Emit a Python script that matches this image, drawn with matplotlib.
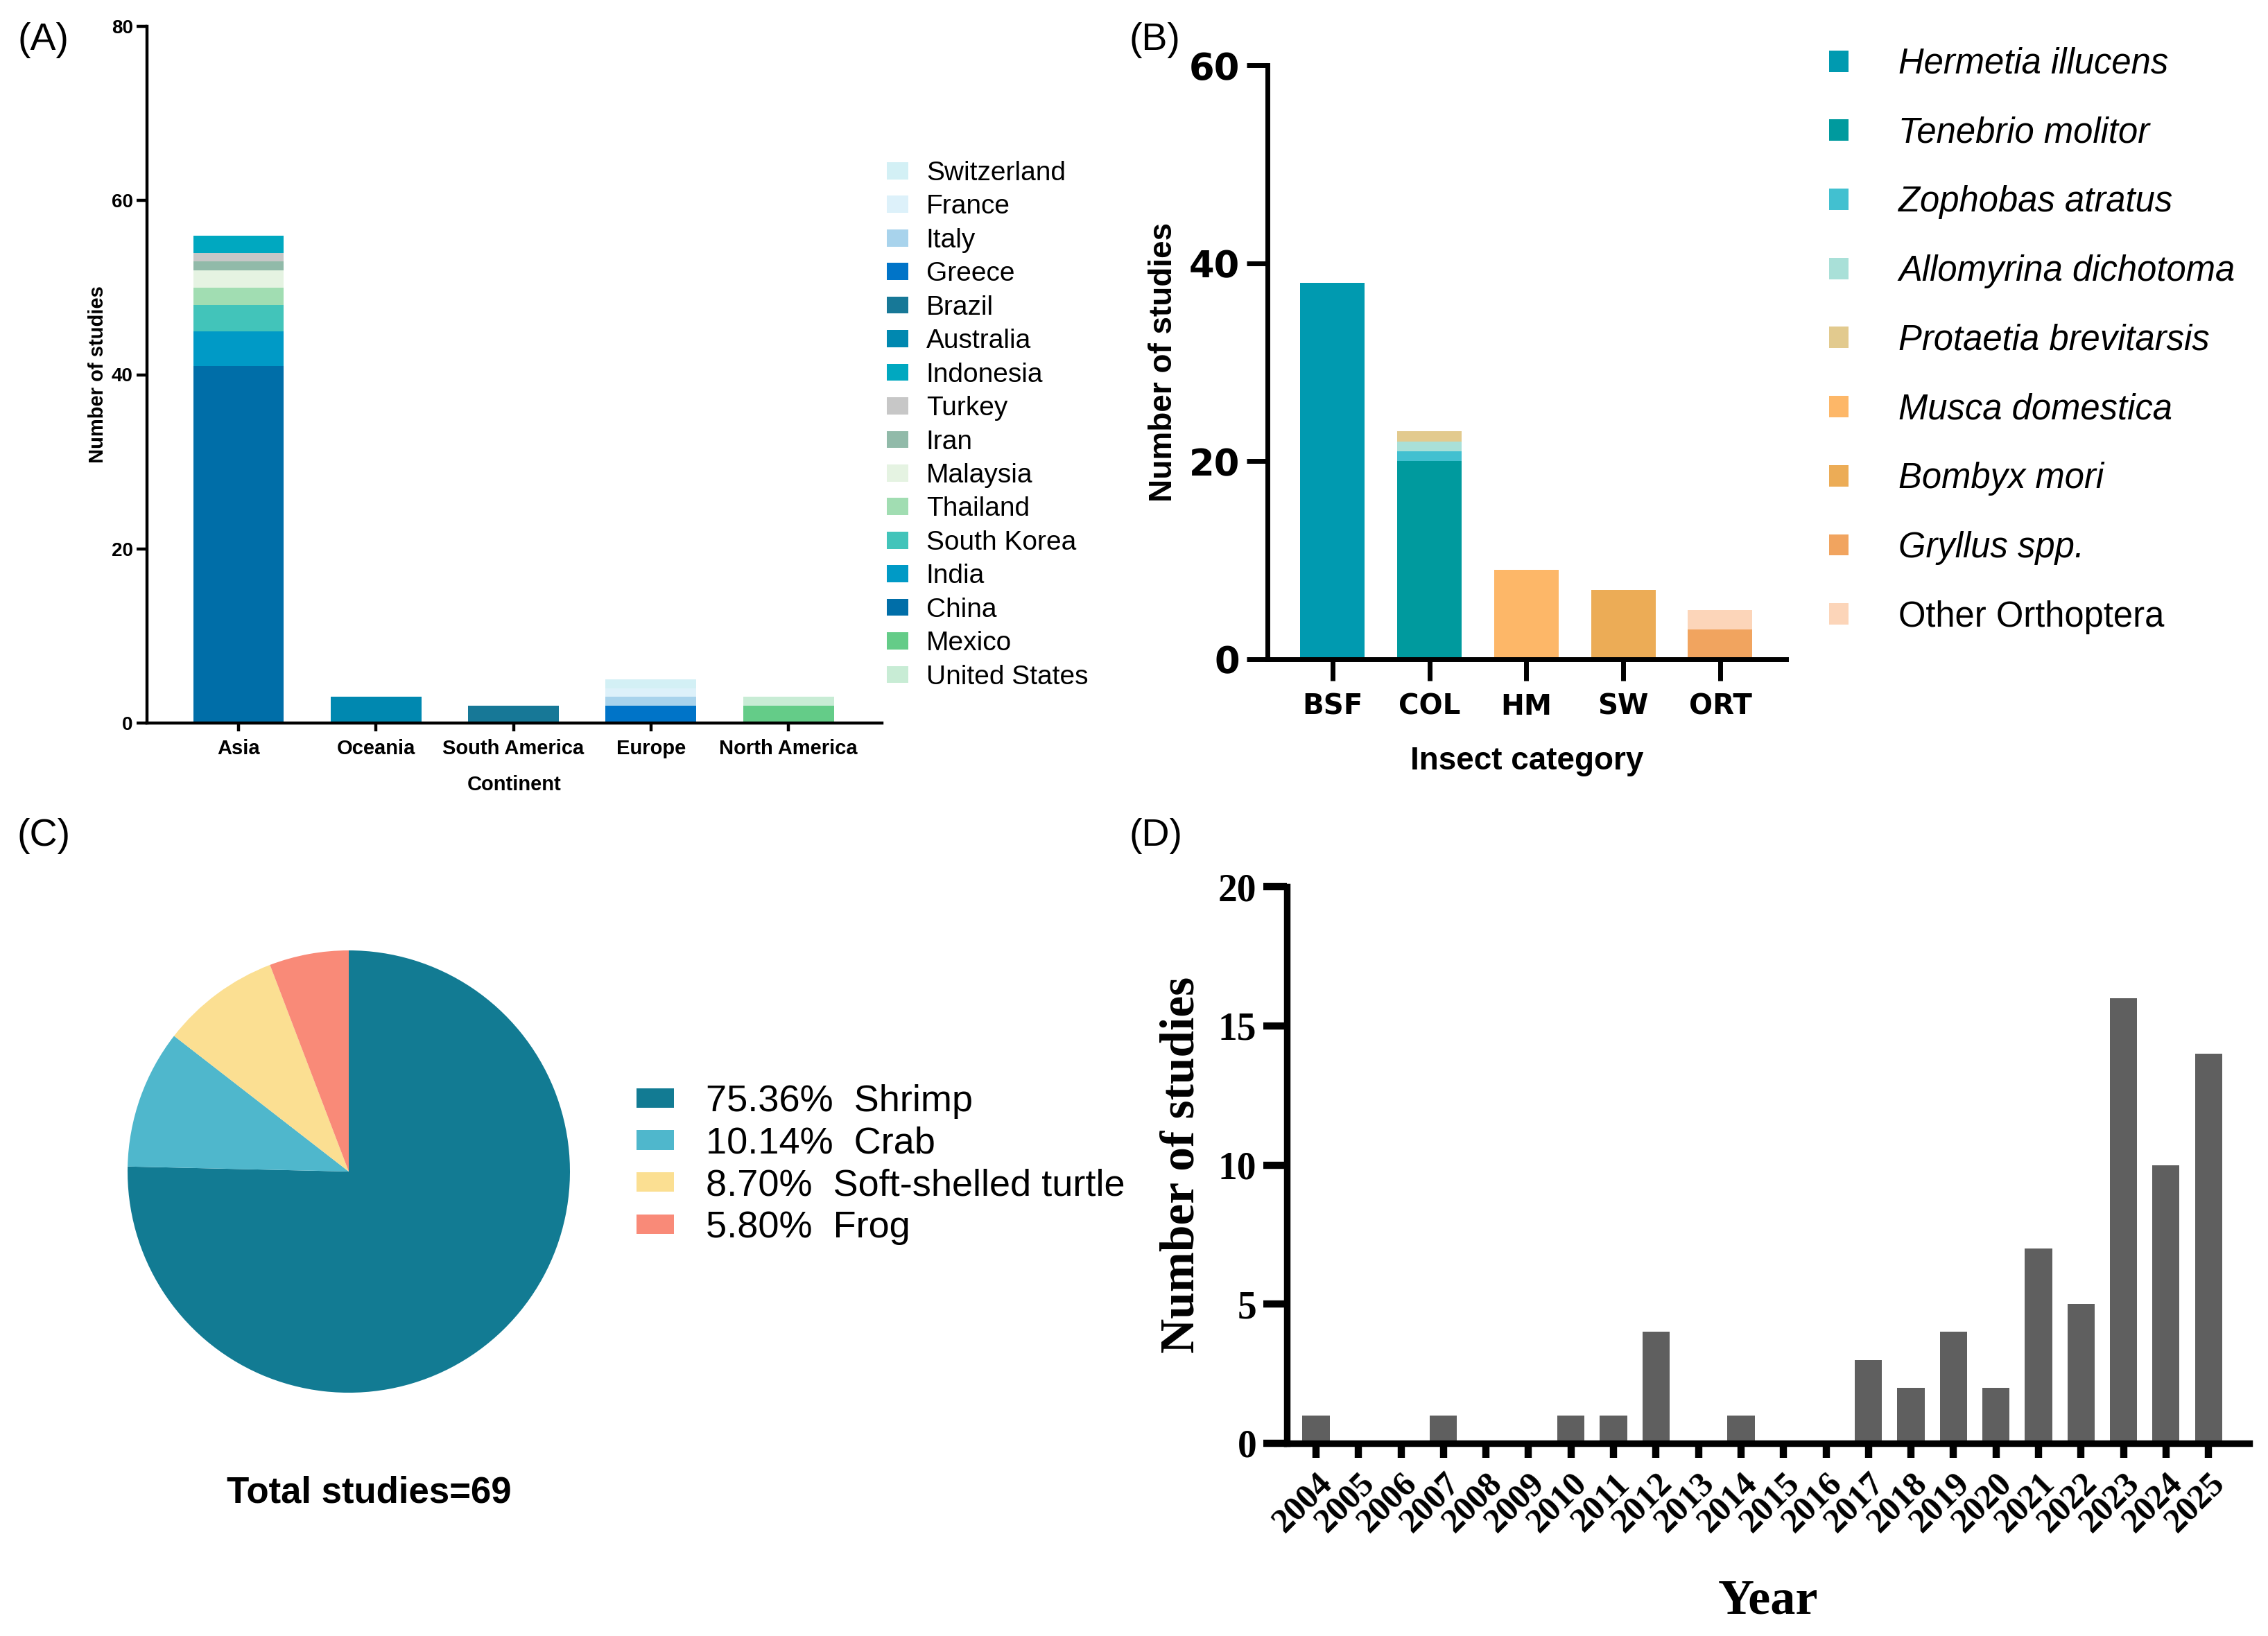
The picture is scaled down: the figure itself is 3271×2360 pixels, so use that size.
import numpy as np
import matplotlib
matplotlib.use('Agg')
import matplotlib.pyplot as plt
from matplotlib.patches import Patch

plt.rcParams['font.family'] = ['Liberation Sans', 'DejaVu Sans']

# ---- (A) studies per continent, stacked by country
continents = ['Asia', 'Oceania', 'South America', 'Europe', 'North America']
china = [41, 0, 0, 0, 0]
india = [4, 0, 0, 0, 0]
south_korea = [3, 0, 0, 0, 0]
thailand = [2, 0, 0, 0, 0]
malaysia = [2, 0, 0, 0, 0]
iran = [1, 0, 0, 0, 0]
turkey = [1, 0, 0, 0, 0]
indonesia = [2, 0, 0, 0, 0]
australia = [0, 3, 0, 0, 0]
brazil = [0, 0, 2, 0, 0]
greece = [0, 0, 0, 2, 0]
italy = [0, 0, 0, 1, 0]
france = [0, 0, 0, 1, 0]
switzerland = [0, 0, 0, 1, 0]
mexico = [0, 0, 0, 0, 2]
united_states = [0, 0, 0, 0, 1]

# ---- (B) studies per insect category, stacked by species
categories = ['BSF', 'COL', 'HM', 'SW', 'ORT']
hermetia = [38, 0, 0, 0, 0]
tenebrio = [0, 20, 0, 0, 0]
zophobas = [0, 1, 0, 0, 0]
allomyrina = [0, 1, 0, 0, 0]
protaetia = [0, 1, 0, 0, 0]
musca = [0, 0, 9, 0, 0]
bombyx = [0, 0, 0, 7, 0]
gryllus = [0, 0, 0, 0, 3]
other_orthoptera = [0, 0, 0, 0, 2]

# ---- (C) aquatic species
species_c = ['Shrimp', 'Crab', 'Soft-shelled turtle', 'Frog']
counts_c = [52, 7, 6, 4]

# ---- (D) studies per year
years = list(range(2004, 2026))
studies_per_year = [1, 0, 0, 1, 0, 0, 1, 1, 4, 0, 1, 0, 0, 3, 2, 4, 2, 7, 5, 16, 10, 14]

W, H = 3271, 2360
fig = plt.figure(figsize=(W / 100, H / 100), dpi=100)


def rect(x0, y0, x1, y1):
    return [x0 / W, 1 - y1 / H, (x1 - x0) / W, (y1 - y0) / H]


def clean(ax, lw):
    ax.spines['top'].set_visible(False)
    ax.spines['right'].set_visible(False)
    ax.spines['left'].set_linewidth(lw)
    ax.spines['bottom'].set_linewidth(lw)


# ================= (A)
axA = fig.add_axes(rect(212, 38, 1272, 1043))
a_stack = [
    ('China', china, '#006EA8'), ('India', india, '#009AC6'),
    ('South Korea', south_korea, '#42C4BA'), ('Thailand', thailand, '#A1DDB2'),
    ('Malaysia', malaysia, '#E5F3E2'), ('Iran', iran, '#91BAA9'),
    ('Turkey', turkey, '#C7C7C7'), ('Indonesia', indonesia, '#00A8C0'),
    ('Australia', australia, '#0088B0'), ('Brazil', brazil, '#177897'),
    ('Greece', greece, '#0074C8'), ('Italy', italy, '#A8D3EC'),
    ('France', france, '#DDF1FA'), ('Switzerland', switzerland, '#D3F0F5'),
    ('Mexico', mexico, '#64CC88'), ('United States', united_states, '#C8ECD5'),
]
xa = np.arange(len(continents))
bottom = np.zeros(len(continents))
for name, vals, col in a_stack:
    axA.bar(xa, vals, 0.66, bottom=bottom, color=col, linewidth=0)
    bottom += np.array(vals)
axA.set_xlim(-0.666, 4.68)
axA.set_ylim(0, 80)
axA.set_yticks([0, 20, 40, 60, 80])
axA.set_xticks(xa)
axA.set_xticklabels(continents, fontsize=21, fontweight='bold')
axA.tick_params(axis='y', labelsize=20, width=3.2, length=10.5, pad=4)
axA.tick_params(axis='x', width=3.2, length=8.5, pad=8)
for t in axA.get_yticklabels():
    t.set_fontweight('bold')
clean(axA, 3.2)
axA.set_ylabel('Number of studies', fontsize=21, fontweight='bold')
axA.yaxis.set_label_coords(-0.054, 0.5)
axA.set_xlabel('Continent', fontsize=21, fontweight='bold')
axA.xaxis.set_label_coords(0.5, -0.075)

legend_order_a = ['Switzerland', 'France', 'Italy', 'Greece', 'Brazil', 'Australia',
                  'Indonesia', 'Turkey', 'Iran', 'Malaysia', 'Thailand', 'South Korea',
                  'India', 'China', 'Mexico', 'United States']
col_a = {n: c for n, v, c in a_stack}
hA = [Patch(facecolor=col_a[n], edgecolor='none', label=n) for n in legend_order_a]
axA.legend(handles=hA, loc='upper left', bbox_to_anchor=(1279 / W, 1 - 232 / H),
           bbox_transform=fig.transFigure, frameon=False, fontsize=28,
           handlelength=0.8, handleheight=0.6, handletextpad=0.66,
           labelspacing=0.32, borderpad=0, borderaxespad=0)

# ================= (B)
axB = fig.add_axes(rect(1828, 94, 2576, 951))
b_stack = [
    ('Hermetia illucens', hermetia, '#009AB0'),
    ('Tenebrio molitor', tenebrio, '#009A9E'),
    ('Zophobas atratus', zophobas, '#42C0D0'),
    ('Allomyrina dichotoma', allomyrina, '#A9E0D8'),
    ('Protaetia brevitarsis', protaetia, '#E2CA8E'),
    ('Musca domestica', musca, '#FDB768'),
    ('Bombyx mori', bombyx, '#ECAC56'),
    ('Gryllus spp.', gryllus, '#F1A45F'),
    ('Other Orthoptera', other_orthoptera, '#FCD5B9'),
]
xb = np.arange(len(categories))
bottom = np.zeros(len(categories))
for name, vals, col in b_stack:
    axB.bar(xb, vals, 0.665, bottom=bottom, color=col, linewidth=0)
    bottom += np.array(vals)
axB.set_xlim(-0.672, 4.68)
axB.set_ylim(0, 60)
axB.set_xticks(xb)
axB.set_xticklabels(categories, fontsize=29, fontweight='bold', family='DejaVu Sans')
axB.set_yticks([0, 20, 40, 60])
axB.set_yticklabels(['0', '20', '40', '60'], fontsize=38, fontweight='bold', family='DejaVu Sans')
axB.tick_params(axis='y', width=5, length=21.5, pad=7)
axB.tick_params(axis='x', width=5, length=22, pad=13)
clean(axB, 5)
axB.set_ylabel('Number of studies', fontsize=33, fontweight='bold')
axB.yaxis.set_label_coords(-0.171, 0.5)
axB.set_xlabel('Insect category', fontsize=33, fontweight='bold')
axB.xaxis.set_label_coords(0.5, -0.146)

hB = [Patch(facecolor=c, edgecolor='none', label=n) for n, v, c in b_stack]
legB = axB.legend(handles=hB, loc='upper left', bbox_to_anchor=(2638 / W, 1 - 68 / H),
                  bbox_transform=fig.transFigure, frameon=False, fontsize=36.5,
                  handlelength=0.56, handleheight=0.56, handletextpad=1.42,
                  labelspacing=1.0, borderpad=0, borderaxespad=0)
for t in legB.get_texts():
    if t.get_text() != 'Other Orthoptera':
        t.set_fontstyle('italic')

# ================= (C)
axC = fig.add_axes(rect(503 - 319, 1690 - 319, 503 + 319, 1690 + 319))
colors_c = ['#127B93', '#4FB7CC', '#FBDF92', '#F98A78']
axC.pie(counts_c, colors=colors_c, startangle=90, counterclock=False,
        wedgeprops=dict(linewidth=0))
axC.set_xlim(-1, 1)
axC.set_ylim(-1, 1)
total_c = sum(counts_c)
labels_c = ['%.2f%%  %s' % (100 * c / total_c, s) for c, s in zip(counts_c, species_c)]
hC = [Patch(facecolor=c, edgecolor='none') for c in colors_c]
fig.legend(hC, labels_c, loc='upper left', bbox_to_anchor=(918 / W, 1 - 1564 / H),
           frameon=False, fontsize=39, handlelength=1.0, handleheight=0.42,
           handletextpad=0.85, labelspacing=0.2, borderpad=0, borderaxespad=0)
fig.text(532 / W, 1 - 2153 / H, 'Total studies=%d' % total_c, fontsize=38,
         fontweight='bold', ha='center', va='center')

# ================= (D)
serif = ['Liberation Serif', 'DejaVu Serif']
axD = fig.add_axes(rect(1856, 1279, 3244, 2082))
xd = np.arange(len(years))
axD.bar(xd, studies_per_year, 0.64, color='#5F5F5F', linewidth=0)
axD.set_xlim(-0.685, 21.96)
axD.set_ylim(0, 20)
axD.set_yticks([0, 5, 10, 15, 20])
axD.set_yticklabels(['0', '5', '10', '15', '20'], fontsize=40, fontweight='bold', family=serif)
axD.set_xticks(xd)
axD.set_xticklabels([str(y) for y in years], fontsize=36, fontweight='bold', family=serif,
                    rotation=45, ha='right', va='top', rotation_mode='anchor')
axD.tick_params(axis='y', width=7.5, length=24.5, pad=7)
axD.tick_params(axis='x', width=7.5, length=15, pad=10)
clean(axD, 6.8)
axD.set_ylabel('Number of studies', fontsize=50, fontweight='bold', family=serif)
axD.yaxis.set_label_coords(-0.086, 0.5)
axD.set_xlabel('Year', fontsize=52, fontweight='bold', family=serif)
axD.xaxis.set_label_coords(0.5, -0.243)

# panel letters
for lab, x, y in [('(A)', 26, 58), ('(B)', 1628, 58), ('(C)', 24, 1206), ('(D)', 1628, 1206)]:
    fig.text(x / W, 1 - y / H, lab, fontsize=40, ha='left', va='center')

fig.savefig('out.png', dpi=100)
